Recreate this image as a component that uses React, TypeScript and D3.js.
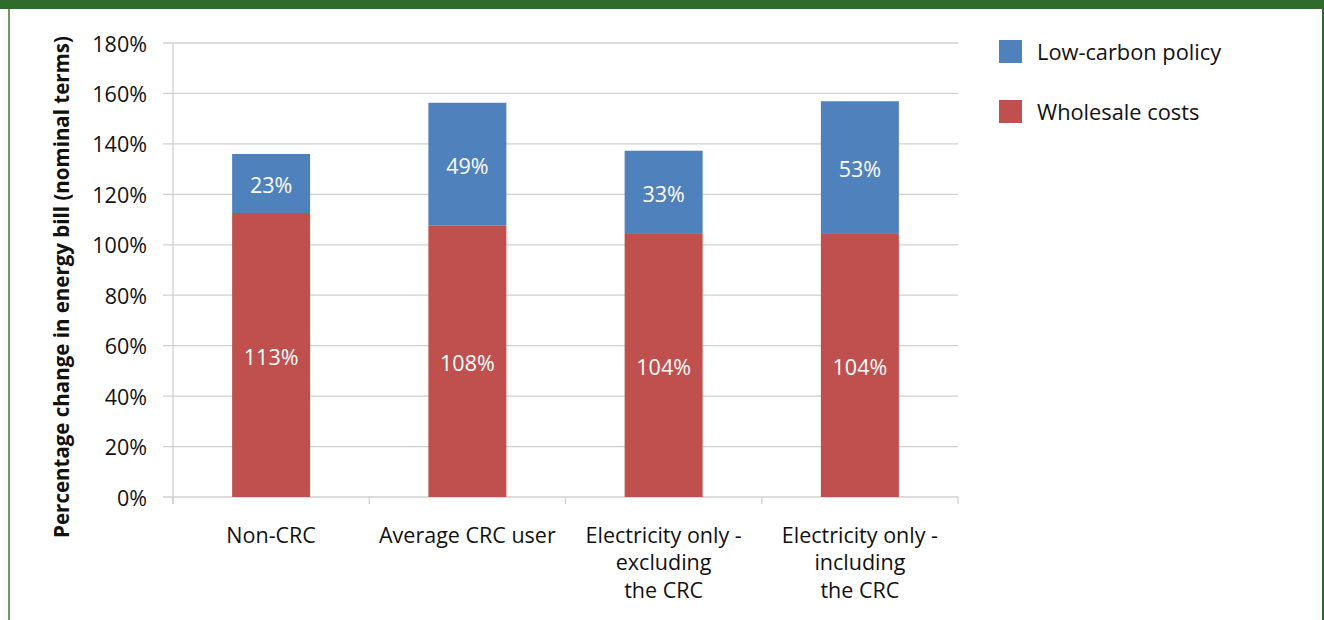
import React from "react";
import * as d3 from "d3";

const categories = [
  ["Non-CRC"],
  ["Average CRC user"],
  ["Electricity only -", "excluding", "the CRC"],
  ["Electricity only -", "including", "the CRC"],
];
const wholesale = [112.6, 107.7, 104.3, 104.3];
const lowCarbon = [23.4, 48.6, 33.0, 52.6];
const wholesaleLabels = ["113%", "108%", "104%", "104%"];
const lowCarbonLabels = ["23%", "49%", "33%", "53%"];
const yTicks = [0, 20, 40, 60, 80, 100, 120, 140, 160, 180];
const seriesNames = ["Low-carbon policy", "Wholesale costs"];

const W = 1324;
const H = 620;
const BLUE = "#4f81bd";
const RED = "#c0504d";
const FONT = "'Open Sans', 'Noto Sans', sans-serif";

export default function App() {
  const left = 173, right = 958, top = 43, bottom = 497;
  const x = d3.scaleBand<number>().domain(d3.range(categories.length)).range([left, right]).paddingInner(0).paddingOuter(0);
  const y = d3.scaleLinear().domain([0, 180]).range([bottom, top]);
  const barW = 78;
  const grid = "#d0d0d0";
  const fs = 21.5;

  return (
    <svg width={W} height={H} style={{ position: "absolute", left: 0, top: 0, background: "#fff" }} fontFamily={FONT}>
      <rect x={0} y={0} width={W} height={H} fill="#fff" />
      {/* frame */}
      <rect x={0} y={0} width={W} height={9} fill="#2f6b2b" />
      <rect x={8} y={9} width={2} height={H - 9} fill="#6c9863" />
      <rect x={1322} y={9} width={2} height={H - 9} fill="#2f6b2b" />

      {/* gridlines */}
      {yTicks.map((t) => (
        <g key={t}>
          <line x1={163} x2={right} y1={y(t)} y2={y(t)} stroke={grid} strokeWidth={1.3} />
          <text x={147} y={y(t) + 1} dy="0.35em" textAnchor="end" fontSize={fs} fill="#111">{t}%</text>
        </g>
      ))}
      {/* y axis */}
      <line x1={left} x2={left} y1={top} y2={bottom + 7} stroke={grid} strokeWidth={1.3} />
      {/* category ticks */}
      {d3.range(categories.length + 1).map((i) => {
        const xx = left + i * x.bandwidth();
        return <line key={i} x1={xx} x2={xx} y1={bottom} y2={bottom + 7} stroke={grid} strokeWidth={1.3} />;
      })}

      {/* bars */}
      {categories.map((_, i) => {
        const cx = (x(i) as number) + x.bandwidth() / 2;
        const w0 = wholesale[i];
        const total = w0 + lowCarbon[i];
        return (
          <g key={i}>
            <rect x={cx - barW / 2} y={y(w0)} width={barW} height={y(0) - y(w0)} fill={RED} />
            <rect x={cx - barW / 2} y={y(total)} width={barW} height={y(w0) - y(total)} fill={BLUE} />
            <text x={cx} y={(y(0) + y(w0)) / 2 + 2} dy="0.35em" textAnchor="middle" fontSize={fs} fill="#fff">{wholesaleLabels[i]}</text>
            <text x={cx} y={(y(w0) + y(total)) / 2 + 2} dy="0.35em" textAnchor="middle" fontSize={fs} fill="#fff">{lowCarbonLabels[i]}</text>
          </g>
        );
      })}

      {/* category labels */}
      {categories.map((lines, i) => {
        const cx = (x(i) as number) + x.bandwidth() / 2;
        return (
          <text key={i} x={cx} y={535} textAnchor="middle" fontSize={fs} fill="#111">
            {lines.map((l, j) => (
              <tspan key={j} x={cx} y={535 + j * 27.5} dy="0.35em">{l}</tspan>
            ))}
          </text>
        );
      })}

      {/* y title */}
      <text transform={`translate(62,${287}) rotate(-90)`} textAnchor="middle" dy="0.35em" fontSize={20.5} fontWeight="bold" fill="#111">
        Percentage change in energy bill (nominal terms)
      </text>

      {/* legend */}
      {seriesNames.map((n, i) => (
        <g key={n}>
          <rect x={999} y={40 + i * 60} width={23} height={23} fill={i === 0 ? BLUE : RED} />
          <text x={1037} y={52 + i * 60} dy="0.35em" fontSize={21.8} fill="#111">{n}</text>
        </g>
      ))}
    </svg>
  );
}
